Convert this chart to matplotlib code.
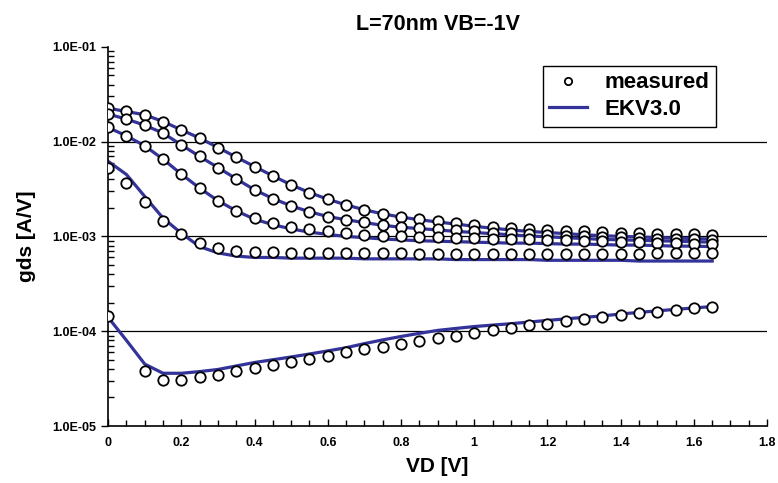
import matplotlib.pyplot as plt
import numpy as np
from matplotlib.ticker import FixedLocator, FuncFormatter, MultipleLocator, NullFormatter

plt.rcParams['font.family'] = ['Liberation Sans', 'DejaVu Sans']
plt.rcParams['font.weight'] = 'bold'

# drain voltage grid, 0 .. 1.65 V step 0.05
vd = np.round(np.arange(0, 1.651, 0.05), 2)

# measured gds [A/V]
meas_a = [0.0225, 0.0208, 0.0192, 0.0163, 0.0133, 0.0109, 0.00867, 0.00686, 0.00546, 0.00435,
          0.0035, 0.0029, 0.00247, 0.00215, 0.00191, 0.00173, 0.00162, 0.00152, 0.00145, 0.00138,
          0.00131, 0.00126, 0.00122, 0.00119, 0.00117, 0.00115, 0.00113, 0.00111, 0.0011, 0.00108,
          0.00107, 0.00106, 0.00105, 0.00104]
meas_b = [0.0195, 0.0173, 0.0149, 0.0123, 0.00924, 0.00697, 0.00533, 0.00405, 0.0031, 0.00251,
          0.0021, 0.00182, 0.00162, 0.0015, 0.00142, 0.00132, 0.00127, 0.00122, 0.00119, 0.00116,
          0.00113, 0.0011, 0.00108, 0.00106, 0.00104, 0.00102, 0.001, 0.00099, 0.00098, 0.00096,
          0.00095, 0.00094, 0.00093, 0.00092]
meas_c = [0.0141, 0.0115, 0.00903, 0.00653, 0.00454, 0.00323, 0.00238, 0.00186, 0.00156, 0.00138,
          0.00127, 0.00119, 0.00113, 0.00108, 0.00104, 0.00102, 0.001, 0.00099, 0.00098, 0.00097,
          0.00096, 0.00095, 0.00094, 0.00093, 0.00092, 0.00091, 0.0009, 0.00089, 0.00088, 0.00087,
          0.00086, 0.00085, 0.00084, 0.00083]
meas_d = [0.0053, 0.0037, 0.0023, 0.00147, 0.00106, 0.00086, 0.00075, 0.00071, 0.00069, 0.00068,
          0.00067, 0.00067, 0.00067, 0.00067, 0.00067, 0.00067, 0.00067, 0.00066, 0.00066, 0.00066,
          0.00066, 0.00066, 0.00066, 0.00066, 0.00066, 0.00066, 0.00066, 0.00066, 0.00066, 0.00066,
          0.00067, 0.00067, 0.00067, 0.00067]
meas_e = [1.43e-4, np.nan, 3.76e-5, 3.07e-5, 3.07e-5, 3.25e-5, 3.47e-5, 3.76e-5, 4.07e-5, 4.35e-5,
          4.72e-5, 5.12e-5, 5.5e-5, 6.0e-5, 6.47e-5, 6.8e-5, 7.3e-5, 7.9e-5, 8.45e-5, 8.93e-5,
          9.55e-5, 1.02e-4, 1.08e-4, 1.15e-4, 1.2e-4, 1.27e-4, 1.33e-4, 1.41e-4, 1.49e-4, 1.55e-4,
          1.61e-4, 1.68e-4, 1.75e-4, 1.82e-4]

# EKV3.0 model gds [A/V]
ekv_a = [0.0225, 0.0208, 0.0192, 0.0163, 0.0133, 0.0109, 0.00867, 0.00686, 0.00546, 0.00435,
         0.0035, 0.0029, 0.00247, 0.00215, 0.00191, 0.00173, 0.0016, 0.0015, 0.00142, 0.00135,
         0.00128, 0.00122, 0.00117, 0.00113, 0.0011, 0.00107, 0.00104, 0.00102, 0.001, 0.00099,
         0.00097, 0.00096, 0.00095, 0.00094]
ekv_b = [0.0195, 0.0173, 0.0149, 0.0123, 0.00924, 0.00697, 0.00533, 0.00405, 0.0031, 0.00251,
         0.0021, 0.00182, 0.00162, 0.0015, 0.0014, 0.00131, 0.00125, 0.00121, 0.00117, 0.00113,
         0.0011, 0.00107, 0.00104, 0.00101, 0.00099, 0.00097, 0.00095, 0.00093, 0.00092, 0.00091,
         0.0009, 0.00089, 0.00088, 0.00087]
ekv_c = [0.0141, 0.0115, 0.00903, 0.00653, 0.00454, 0.00323, 0.00238, 0.00186, 0.00152, 0.00133,
         0.0012, 0.00111, 0.00105, 0.001, 0.00097, 0.00094, 0.00092, 0.0009, 0.00089, 0.00088,
         0.00087, 0.00086, 0.00085, 0.00085, 0.00084, 0.00083, 0.00083, 0.00082, 0.00081, 0.00081,
         0.0008, 0.00079, 0.00079, 0.00078]
ekv_d = [0.0062, 0.0045, 0.00264, 0.00156, 0.00108, 0.00078, 0.00067, 0.00062, 0.0006, 0.0006,
         0.00059, 0.00059, 0.00059, 0.00059, 0.00058, 0.00058, 0.00058, 0.00058, 0.00058, 0.00057,
         0.00057, 0.00057, 0.00057, 0.00057, 0.00056, 0.00056, 0.00056, 0.00056, 0.00056, 0.00055,
         0.00055, 0.00055, 0.00055, 0.00055]
ekv_e = [1.4e-4, 8.0e-5, 4.5e-5, 3.6e-5, 3.6e-5, 3.75e-5, 3.95e-5, 4.3e-5, 4.68e-5, 5.0e-5,
         5.35e-5, 5.75e-5, 6.2e-5, 6.7e-5, 7.4e-5, 8.1e-5, 8.8e-5, 9.5e-5, 1.02e-4, 1.07e-4,
         1.12e-4, 1.16e-4, 1.2e-4, 1.25e-4, 1.3e-4, 1.35e-4, 1.4e-4, 1.45e-4, 1.52e-4, 1.58e-4,
         1.64e-4, 1.7e-4, 1.76e-4, 1.82e-4]

fig = plt.figure(figsize=(7.78, 4.83), dpi=100)
ax = fig.add_axes([0.139, 0.118, 0.847, 0.785])

line_col = '#333399'
line_h = None
for y in [ekv_a, ekv_b, ekv_c, ekv_d, ekv_e]:
    h, = ax.plot(vd, y, color=line_col, lw=2.3, zorder=2, solid_joinstyle='round')
    line_h = line_h or h
mark_h = None
for y in [meas_a, meas_b, meas_c, meas_d, meas_e]:
    h, = ax.plot(vd, y, ls='none', marker='o', ms=7.5, mfc='white', mec='black', mew=1.3, zorder=3)
    mark_h = mark_h or h

ax.set_yscale('log')
ax.set_ylim(1e-5, 1e-1)
ax.set_xlim(0, 1.8)

for g in [1e-2, 1e-3, 1e-4]:
    ax.axhline(g, color='black', lw=0.9, zorder=1)

ax.xaxis.set_major_locator(MultipleLocator(0.2))
ax.xaxis.set_minor_locator(MultipleLocator(0.05))
ax.xaxis.set_major_formatter(FuncFormatter(lambda v, p: '%g' % round(v, 1)))
ax.yaxis.set_major_locator(FixedLocator([1e-5, 1e-4, 1e-3, 1e-2, 1e-1]))
ax.yaxis.set_major_formatter(FuncFormatter(lambda v, p: '%.1E' % v))
ax.yaxis.set_minor_formatter(NullFormatter())
ax.tick_params(axis='both', which='both', direction='in', labelsize=9, width=1)
ax.tick_params(axis='both', which='major', length=5)
ax.tick_params(axis='both', which='minor', length=4)
ax.tick_params(axis='x', pad=8)
ax.tick_params(axis='y', which='major', direction='out', length=5)

for s in ['top', 'right']:
    ax.spines[s].set_visible(False)
ax.spines['left'].set_linewidth(1.2)
ax.spines['bottom'].set_linewidth(1.2)

ax.set_title('L=70nm VB=-1V', fontsize=15.5, fontweight='bold', pad=12)
ax.set_xlabel('VD [V]', fontsize=15, fontweight='bold', labelpad=6)
ax.set_ylabel('gds [A/V]', fontsize=15, fontweight='bold', labelpad=12)

leg = ax.legend([mark_h, line_h], ['measured', 'EKV3.0'], loc='upper right',
                bbox_to_anchor=(0.923, 0.95), borderaxespad=0,
                fancybox=False, edgecolor='black', framealpha=1, fontsize=16,
                markerscale=0.7, handlelength=1.7, borderpad=0.3, labelspacing=0.25)
leg.get_frame().set_linewidth(1.0)
for t in leg.get_texts():
    t.set_fontweight('bold')

fig.savefig('out.png', dpi=100)
